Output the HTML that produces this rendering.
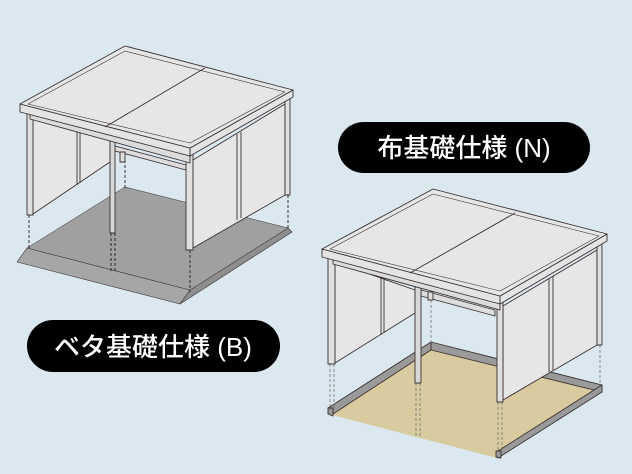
<!DOCTYPE html>
<html><head><meta charset="utf-8"><style>
html,body{margin:0;padding:0;background:#dce8f0;}
svg{display:block}
.pill{font-family:"Liberation Sans","Noto Sans CJK JP",sans-serif;font-size:26px;fill:#fff;font-weight:500}
</style></head><body>
<svg width="632" height="474" viewBox="0 0 632 474" xmlns="http://www.w3.org/2000/svg">
<rect width="632" height="474" fill="#dce8f0"/>
<g stroke="#3a3030" stroke-width="0.9" stroke-linejoin="round">
<!-- ===== Structure 1 (slab) ===== -->
<polygon points="27,248 190,290 180,304 17,262" fill="#a6a6a6" stroke-width="0.6"/>
<polygon points="190,290 288,228 292,232 180,304" fill="#8e8e8e" stroke-width="0.6"/>
<polygon points="27,248 125,187 288,228 190,290" fill="#a0a0a0" stroke-width="0.5"/>
<!-- dashed -->
<g stroke-dasharray="3,2" fill="none" stroke="#222">
<line x1="29" y1="215" x2="29" y2="248"/><line x1="111" y1="233" x2="111" y2="272"/><line x1="115" y1="233" x2="115" y2="272"/>
<line x1="190" y1="250" x2="190" y2="292"/><line x1="288" y1="195" x2="288" y2="228"/><line x1="125" y1="160" x2="125" y2="188"/>
</g>
<polygon points="33,116 110,138 110,162 33,214" fill="#e6e6e6"/>
<line x1="77" y1="126" x2="77" y2="185"/><line x1="80" y1="126" x2="80" y2="183"/>
<polygon points="115,146 186,165 186,170 115,151" fill="#ddd"/>
<polygon points="120,152 125,152 125,162 120,162" fill="#ddd"/>
<polygon points="193,160 285,104 285,195 193,248" fill="#e6e6e6"/>
<line x1="237" y1="134" x2="237" y2="220"/><line x1="241" y1="132" x2="241" y2="218"/>
<rect x="27" y="110" width="6" height="105" fill="#e0e0e0"/>
<rect x="110" y="140" width="5" height="93" fill="#d8d8d8"/>
<rect x="186" y="152" width="7" height="98" fill="#e0e0e0"/>
<rect x="285" y="97" width="5" height="98" fill="#e0e0e0"/>
<polygon points="30,112 190,156 190,163 30,119" fill="#dcdcdc"/>
<polygon points="20,104 190,148 190,156 20,112" fill="#e4e4e4"/>
<polygon points="190,148 293,90 293,97 190,156" fill="#e4e4e4"/>
<polygon points="20,104 125,46 293,90 190,148" fill="#e6e6e6"/>
<polygon points="28,104 125,51 285,92 190,143" fill="none" stroke-width="0.6"/>
<line x1="205" y1="68" x2="105" y2="127"/>
<!-- ===== Structure 2 (strip) ===== -->
<polygon points="332,415 430,347 600,388 497,458" fill="#d9cba0" stroke="none"/>
<polygon points="328,408 431,342 431,350 333,414" fill="#9a9a9a"/>
<polygon points="431,342 602,385 602,392 431,350" fill="#9a9a9a"/>
<polygon points="602,385 498,451 498,458 602,392" fill="#9a9a9a"/>
<polygon points="328,408 333,408 333,416 328,414" fill="#9a9a9a"/>
<polygon points="496,451 501,451 501,458 496,457" fill="#9a9a9a"/>
<g stroke-dasharray="3,2" fill="none" stroke="#666" stroke-width="0.7">
<line x1="330" y1="364" x2="330" y2="410"/><line x1="334" y1="364" x2="334" y2="410"/>
<line x1="416" y1="383" x2="416" y2="437"/><line x1="420" y1="383" x2="420" y2="437"/>
<line x1="498" y1="402" x2="498" y2="452"/><line x1="502" y1="402" x2="502" y2="452"/>
<line x1="600" y1="345" x2="600" y2="387"/><line x1="431" y1="300" x2="431" y2="344"/>
</g>
<polygon points="335,262 415,290 415,313 335,363" fill="#e6e6e6"/>
<line x1="381" y1="277" x2="381" y2="335"/><line x1="384" y1="277" x2="384" y2="333"/>
<polygon points="421,290 495,310 495,316 421,296" fill="#ddd"/>
<polygon points="428,292 433,292 433,300 428,300" fill="#ddd"/>
<polygon points="503,306 597,250 597,345 503,400" fill="#e6e6e6"/>
<line x1="549" y1="278" x2="549" y2="372"/><line x1="553" y1="276" x2="553" y2="370"/>
<rect x="328" y="256" width="7" height="108" fill="#e0e0e0"/>
<rect x="415" y="287" width="6" height="96" fill="#d8d8d8"/>
<rect x="497" y="298" width="6" height="104" fill="#e0e0e0"/>
<rect x="597" y="241" width="5" height="104" fill="#e0e0e0"/>
<polygon points="333,257 500,303 500,310 333,264" fill="#dcdcdc"/>
<polygon points="322,249 500,296 500,304 322,257" fill="#e4e4e4"/>
<polygon points="500,296 607,234 607,241 500,304" fill="#e4e4e4"/>
<polygon points="322,249 433,189 607,234 500,296" fill="#e6e6e6"/>
<polygon points="330,249 433,194 599,236 500,291" fill="none" stroke-width="0.6"/>
<line x1="515" y1="213" x2="410" y2="273"/>
</g>
<rect x="338" y="122" width="252" height="51" rx="25.5" fill="#000"/>
<text x="464" y="157" text-anchor="middle" class="pill">布基礎仕様 (N)</text>
<rect x="27" y="320" width="253" height="52" rx="26" fill="#000"/>
<text x="153" y="356" text-anchor="middle" class="pill">ベタ基礎仕様 (B)</text>
</svg>
</body></html>
